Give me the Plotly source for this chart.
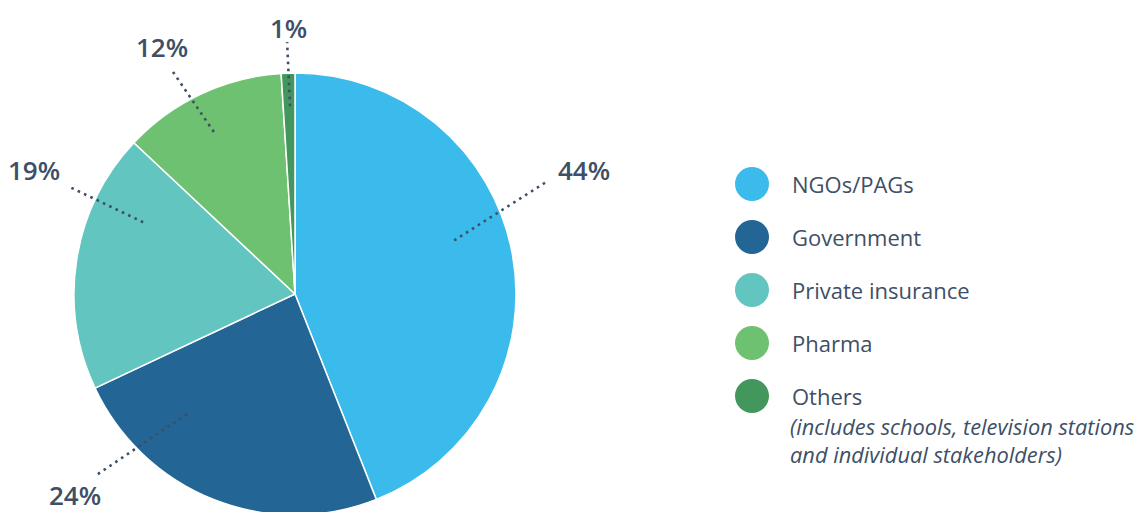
import math
import plotly.graph_objects as go

# ---- data ----
categories = ["NGOs/PAGs", "Government", "Private insurance", "Pharma", "Others"]
shares = [44, 24, 19, 12, 1]
colors = ["#3bbbeb", "#236594", "#63c5c0", "#6fc172", "#43975c"]
others_note = "(includes schools, television stations<br>and individual stakeholders)"

# ---- layout constants ----
W, H = 1143, 520
CX, CY, R = 295, 294, 221
TEXT = "#3e4f66"
FONT = "Open Sans"

# label leader-line styling (angle shifts in degrees, inner/outer radius factors, label offset px)
INNER_SHIFT = [-7.8, 20.4, 16.3, -1.4, 0.3]
OUTER_SHIFT = [-13.2, 26.0, 16.4, -3.6, 0.0]
LEADER_INNER = [0.76, 0.73, 0.76, 0.82, 0.85]
LEADER_OUTER = [1.24, 1.21, 1.14, 1.15, 1.14]
LABEL_OFFSET = [(39, -13), (-23, 21), (-33, -16), (-11, -24), (1, -14)]

LEG_X, LEG_Y0, LEG_STEP = 752, 184, 53

fig = go.Figure()

fig.add_trace(go.Pie(
    labels=categories, values=shares, sort=False, direction="clockwise", rotation=0,
    marker=dict(colors=colors, line=dict(color="white", width=1.5)),
    textinfo="none", hoverinfo="label+percent", showlegend=False,
    domain=dict(x=[(CX - R) / W, (CX + R) / W], y=[(H - CY - R) / H, (H - CY + R) / H]),
))

# legend as scatter markers in pixel coordinates
leg_y = [LEG_Y0 + i * LEG_STEP for i in range(len(categories))]
fig.add_trace(go.Scatter(
    x=[LEG_X] * len(categories), y=leg_y, mode="markers",
    marker=dict(size=34, color=colors, line=dict(width=0)),
    hoverinfo="skip", showlegend=False,
))

annotations = []
shapes = []
total = sum(shares)
cum = 0
for i, v in enumerate(shares):
    mid = (cum + v / 2) / total * 360
    cum += v
    a0 = math.radians(mid + INNER_SHIFT[i])
    a1 = math.radians(mid + OUTER_SHIFT[i])
    x0, y0 = CX + math.sin(a0) * R * LEADER_INNER[i], CY - math.cos(a0) * R * LEADER_INNER[i]
    x1, y1 = CX + math.sin(a1) * R * LEADER_OUTER[i], CY - math.cos(a1) * R * LEADER_OUTER[i]
    shapes.append(dict(type="line", xref="x", yref="y", x0=x0, y0=y0, x1=x1, y1=y1,
                       line=dict(color=TEXT, width=2.6, dash="2.6px,4.4px"), layer="above"))
    dx, dy = LABEL_OFFSET[i]
    annotations.append(dict(x=x1 + dx, y=y1 + dy, xref="x", yref="y", showarrow=False,
                            text=f"{round(v / total * 100)}%", xanchor="center", yanchor="middle",
                            font=dict(family=FONT, size=26, color=TEXT, weight=600)))
    annotations.append(dict(x=LEG_X + 38, y=leg_y[i], xref="x", yref="y", showarrow=False,
                            text=categories[i], xanchor="left", yanchor="middle",
                            font=dict(family=FONT, size=22, color=TEXT, weight=500)))

annotations.append(dict(x=LEG_X + 36, y=leg_y[-1] + 14, xref="x", yref="y", showarrow=False,
                        text=others_note, xanchor="left", yanchor="top", align="left",
                        font=dict(family=FONT, size=21.8, color=TEXT, style="italic")))

fig.update_layout(
    width=W, height=H, margin=dict(l=0, r=0, t=0, b=0),
    paper_bgcolor="white", plot_bgcolor="rgba(0,0,0,0)",
    xaxis=dict(range=[0, W], visible=False, fixedrange=True, domain=[0, 1]),
    yaxis=dict(range=[H, 0], visible=False, fixedrange=True, domain=[0, 1]),
    annotations=annotations, shapes=shapes, showlegend=False,
)

fig.write_html("out.html", post_script=(
    "document.body.style.margin='0';document.body.style.overflow='hidden';"
    "document.documentElement.style.overflow='hidden';"))
